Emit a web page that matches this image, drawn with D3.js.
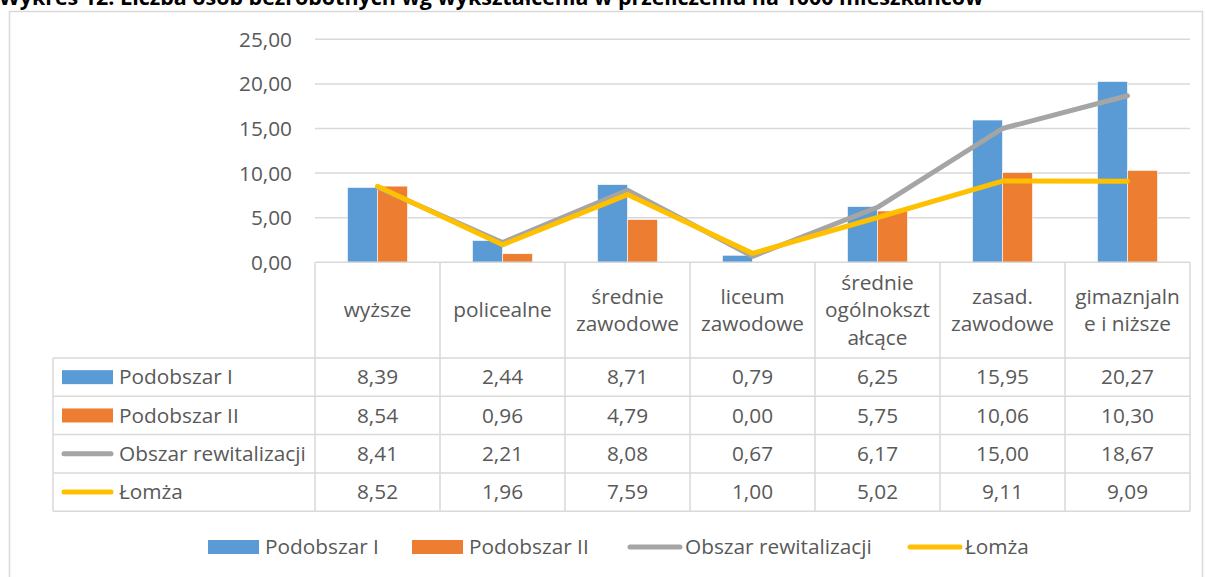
<!DOCTYPE html>
<html><head><meta charset="utf-8">
<script src="https://cdn.jsdelivr.net/npm/d3@7"></script>
<style>
html,body{margin:0;padding:0;background:#fff;overflow:hidden;}
svg{display:block;}
text{font-family:"Open Sans",sans-serif;fill:#595959;}
</style></head>
<body>
<svg id="c" width="1205" height="577"></svg>
<script>
const title = "Wykres 12. Liczba osób bezrobotnych wg wykształcenia w przeliczeniu na 1000 mieszkańców";
const categories = ["wyższe","policealne","średnie zawodowe","liceum zawodowe","średnie ogólnokształcące","zasad. zawodowe","gimaznjalne i niższe"];
const categoryLines = [["wyższe"],["policealne"],["średnie","zawodowe"],["liceum","zawodowe"],["średnie","ogólnokszt","ałcące"],["zasad.","zawodowe"],["gimaznjaln","e i niższe"]];
const seriesNames = ["Podobszar I","Podobszar II","Obszar rewitalizacji","Łomża"];
const podobszarI  = [8.39,2.44,8.71,0.79,6.25,15.95,20.27];
const podobszarII = [8.54,0.96,4.79,0.00,5.75,10.06,10.30];
const obszarRew   = [8.41,2.21,8.08,0.67,6.17,15.00,18.67];
const lomza       = [8.52,1.96,7.59,1.00,5.02,9.11,9.09];
const yTicks = [0,5,10,15,20,25];
const colors = ["#5B9BD5","#ED7D31","#A5A5A5","#FFC000"];

const series = [
  {name:seriesNames[0], values:podobszarI, type:"bar", color:colors[0]},
  {name:seriesNames[1], values:podobszarII, type:"bar", color:colors[1]},
  {name:seriesNames[2], values:obszarRew, type:"line", color:colors[2]},
  {name:seriesNames[3], values:lomza, type:"line", color:colors[3]}
];

const svg = d3.select("#c");
const locale = d3.formatLocale({decimal:",", thousands:" ", grouping:[3], currency:["","zł"]});
const fmt = locale.format(".2f");

function measure(str, size, weight){
  const t = svg.append("text").attr("font-size",size).attr("font-weight",weight||"normal").text(str);
  const w = t.node().getComputedTextLength(); t.remove(); return w;
}
const fs = 100*187/measure("Obszar rewitalizacji",100);
const tfs = 100*985/measure(title,100,"bold");

// frame
svg.append("rect").attr("x",9.5).attr("y",11.5).attr("width",1193).attr("height",620)
  .attr("fill","#fff").attr("stroke","#D9D9D9").attr("stroke-width",1.5);

// title (partly cut at the top, as in the source)
svg.append("text").attr("x",-1).attr("y",5).attr("font-size",tfs).attr("font-weight","bold")
  .style("fill","#000").text(title);

const x0 = 315, x1 = 1190, tableLeft = 53;
const x = d3.scaleBand().domain(categories).range([x0,x1]).paddingInner(0.52).paddingOuter(0.26);
const xStep = d3.scaleBand().domain(categories).range([x0,x1]).padding(0);
const xs = d3.scaleBand().domain([0,1]).range([0,x.bandwidth()]);
const y = d3.scaleLinear().domain([0,25]).range([262.3,39.3]);

// gridlines
svg.append("g").selectAll("line").data(yTicks.filter(d=>d>0)).join("line")
  .attr("x1",x0).attr("x2",x1).attr("y1",d=>y(d)).attr("y2",d=>y(d))
  .attr("stroke","#D9D9D9").attr("stroke-width",1.5);

// y axis labels
const yAxis = d3.axisLeft(y).tickValues(yTicks).tickFormat(fmt).tickSize(0).tickPadding(0);
const ga = svg.append("g").attr("transform","translate(292,0)").call(yAxis);
ga.select(".domain").remove();
ga.selectAll("text").attr("font-size",fs).attr("font-family",null).style("fill","#595959").attr("dy","0.34em");

// bars
series.filter(s=>s.type==="bar").forEach((s,i)=>{
  svg.append("g").selectAll("rect").data(s.values).join("rect")
    .attr("x",(d,j)=>x(categories[j])+xs(i))
    .attr("width",xs.bandwidth())
    .attr("y",d=>y(d)).attr("height",d=>y(0)-y(d))
    .attr("fill",s.color).attr("stroke","#fff").attr("stroke-width",0.6);
});

// table lines
const rowTop = 262.3, headerBottom = 358, rowH = 38.3;
const tbl = svg.append("g").attr("stroke","#D9D9D9").attr("stroke-width",1.5);
const bottom = headerBottom + 4*rowH;
xStep.domain().forEach(c=>{
  tbl.append("line").attr("x1",xStep(c)).attr("x2",xStep(c)).attr("y1",rowTop).attr("y2",bottom);
});
tbl.append("line").attr("x1",x1).attr("x2",x1).attr("y1",rowTop).attr("y2",bottom);
tbl.append("line").attr("x1",tableLeft).attr("x2",tableLeft).attr("y1",headerBottom).attr("y2",bottom);
for(let r=0;r<=4;r++){
  const yy = headerBottom + r*rowH;
  tbl.append("line").attr("x1",tableLeft).attr("x2",x1).attr("y1",yy).attr("y2",yy);
}
svg.append("line").attr("x1",x0).attr("x2",x1).attr("y1",y(0)).attr("y2",y(0))
  .attr("stroke","#D9D9D9").attr("stroke-width",1.5);

// lines (over bars)
const lineGen = d3.line().x((d,j)=>x(categories[j])+x.bandwidth()/2).y(d=>y(d));
series.filter(s=>s.type==="line").forEach(s=>{
  svg.append("path").datum(s.values).attr("d",lineGen)
    .attr("fill","none").attr("stroke",s.color).attr("stroke-width",5)
    .attr("stroke-linejoin","round").attr("stroke-linecap","round");
});

// header text
const lh = 27.5;
categories.forEach((c,j)=>{
  const lines = categoryLines[j];
  const cx = xStep(c)+xStep.bandwidth()/2;
  const cy = (rowTop+headerBottom)/2;
  const t = svg.append("text").attr("text-anchor","middle").attr("font-size",fs);
  lines.forEach((l,k)=>{
    t.append("tspan").attr("x",cx).attr("y",cy + (k-(lines.length-1)/2)*lh).attr("dy","0.35em").text(l);
  });
});

// data rows
series.forEach((s,r)=>{
  const cy = headerBottom + r*rowH + rowH/2;
  if(s.type==="bar"){
    svg.append("rect").attr("x",62).attr("y",cy-7).attr("width",51).attr("height",14).attr("fill",s.color);
  } else {
    svg.append("line").attr("x1",64).attr("x2",111).attr("y1",cy).attr("y2",cy)
      .attr("stroke",s.color).attr("stroke-width",5).attr("stroke-linecap","round");
  }
  svg.append("text").attr("x",119).attr("y",cy).attr("dy","0.35em").attr("font-size",fs).text(s.name);
  s.values.forEach((v,j)=>{
    svg.append("text").attr("x",xStep(categories[j])+xStep.bandwidth()/2).attr("y",cy).attr("dy","0.35em")
      .attr("text-anchor","middle").attr("font-size",fs).text(fmt(v));
  });
});

// bottom legend
const legY = 547, swW = 51, gapText = 6;
const legendX = [208, 412, 628, 908];
series.forEach((s,i)=>{
  const lx = legendX[i];
  if(s.type==="bar"){
    svg.append("rect").attr("x",lx).attr("y",legY-7).attr("width",swW).attr("height",14).attr("fill",s.color);
  } else {
    svg.append("line").attr("x1",lx+2).attr("x2",lx+swW+1).attr("y1",legY).attr("y2",legY)
      .attr("stroke",s.color).attr("stroke-width",5).attr("stroke-linecap","round");
  }
  svg.append("text").attr("x",lx+swW+gapText).attr("y",legY).attr("dy","0.35em").attr("font-size",fs).text(s.name);
});
</script>
</body></html>
